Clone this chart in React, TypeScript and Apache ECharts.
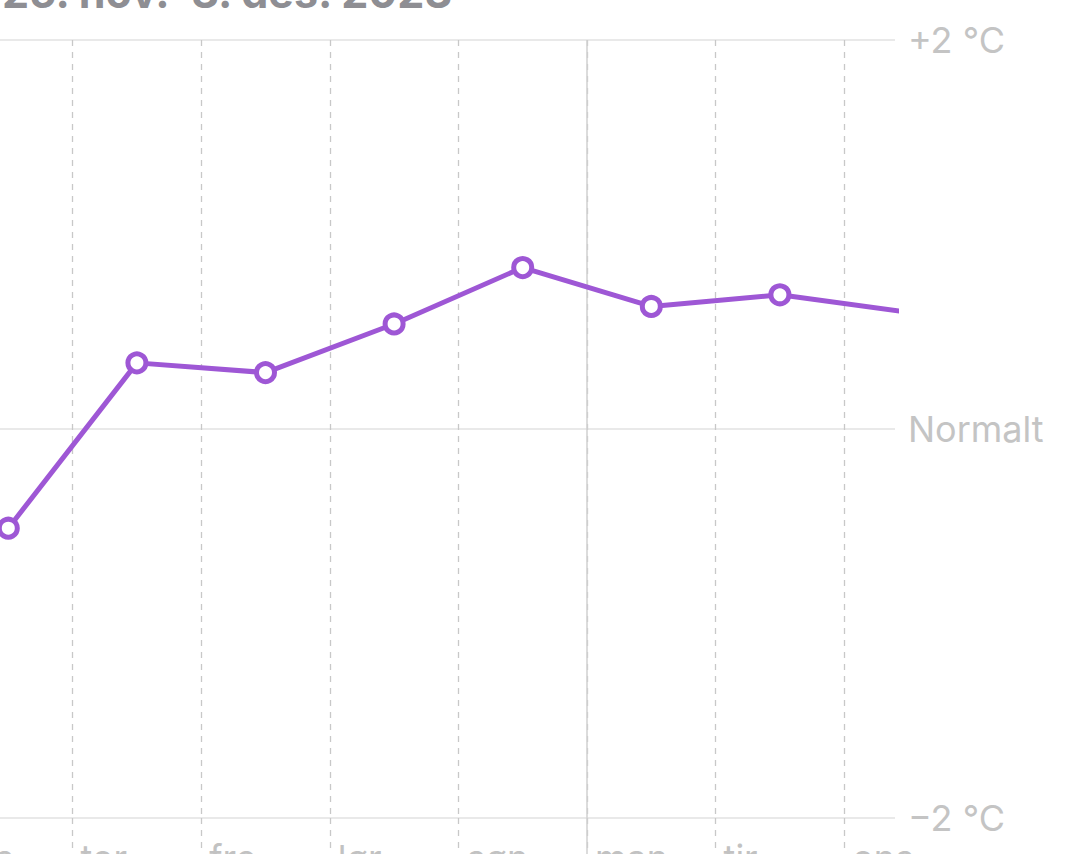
import React, { useEffect, useRef } from "react";
import * as echarts from "echarts";

const title = "25. nov.–3. des. 2023";
const days = ["man", "tir", "ons", "tor", "fre", "lør", "søn", "man", "tir", "ons"];
const firstDataDay = 2;
const anomalies = [-0.51, 0.34, 0.29, 0.54, 0.83, 0.63, 0.69, 0.6];
const yTicks = [-2, 0, 2];
const yTickLabels = ["−2 °C", "Normalt", "+2 °C"];
const xMax = 9.395;

const FONT = "Inter, 'Noto Sans', sans-serif";
const PURPLE = "#9e57d5";

export default function App() {
  const ref = useRef<HTMLDivElement>(null);
  useEffect(() => {
    if (!ref.current) return;
    const chart = echarts.init(ref.current, null, { renderer: "svg" });
    const dayIdx = days.map((_, i) => i);
    const weekStart = days.findIndex((d, i) => i > 0 && d === "man");
    chart.setOption({
      animation: false,
      backgroundColor: "#fff",
      title: {
        text: title,
        left: 337,
        top: 25,
        textStyle: { fontFamily: FONT, fontSize: 43, fontWeight: "bold", color: "#8e8e93" },
      },
      grid: { left: 26.8, right: 178, top: 100, bottom: 76, containLabel: false },
      xAxis: [
        {
          type: "value",
          min: 0,
          max: xMax,
          interval: 1,
          position: "bottom",
          axisLine: { show: false, onZero: false },
          axisTick: {
            show: true,
            customValues: dayIdx,
            length: 60,
            lineStyle: { color: "#c8c8c8", width: 1.3, type: [6, 6] },
          },
          splitLine: {
            show: true,
            showMinLine: true,
            showMaxLine: true,
            lineStyle: { color: "#c8c8c8", width: 1.3, type: [6, 6] },
          },
          axisLabel: {
            show: true,
            customValues: dayIdx,
            align: "left",
            margin: 22,
            padding: [0, 0, 0, 8],
            fontFamily: FONT,
            fontSize: 36,
            color: "#c2c2c2",
            formatter: (v: number) => days[Math.round(v)] ?? "",
          },
        },
        {
          type: "value",
          min: 0,
          max: xMax,
          interval: 7,
          position: "bottom",
          offset: 0,
          axisLine: { show: false, onZero: false },
          axisLabel: { show: false },
          axisTick: {
            show: true,
            customValues: [weekStart],
            length: 60,
            lineStyle: { color: "#d0d0d0", width: 1.5 },
          },
          splitLine: {
            show: true,
            showMinLine: true,
            showMaxLine: true,
            lineStyle: { color: "#d0d0d0", width: 1.5 },
          },
        },
      ],
      yAxis: {
        type: "value",
        position: "right",
        min: -2,
        max: 2,
        interval: 2,
        axisLine: { show: false },
        axisTick: { show: false },
        splitLine: { show: true, lineStyle: { color: "#e2e2e2", width: 1.5 } },
        axisLabel: {
          margin: 13,
          fontFamily: FONT,
          fontSize: 36,
          color: "#c4c4c4",
          formatter: (v: number) => {
            const i = yTicks.indexOf(v);
            return i >= 0 ? yTickLabels[i] : "";
          },
        },
      },
      series: [
        {
          type: "line",
          xAxisIndex: 0,
          data: anomalies.map((t, i) => [firstDataDay + i + 0.5, t]),
          clip: true,
          symbol: "circle",
          symbolSize: 18,
          showAllSymbol: true,
          lineStyle: { color: PURPLE, width: 5 },
          itemStyle: { color: "#ffffff", borderColor: PURPLE, borderWidth: 5 },
          z: 5,
        },
      ],
    });
    return () => chart.dispose();
  }, []);
  return (
    <div style={{ position: "fixed", left: 0, top: 0, width: 1073, height: 854, overflow: "hidden", background: "#fff" }}>
      <div ref={ref} style={{ position: "absolute", left: -340, top: -60, width: 1413, height: 954 }} />
    </div>
  );
}
